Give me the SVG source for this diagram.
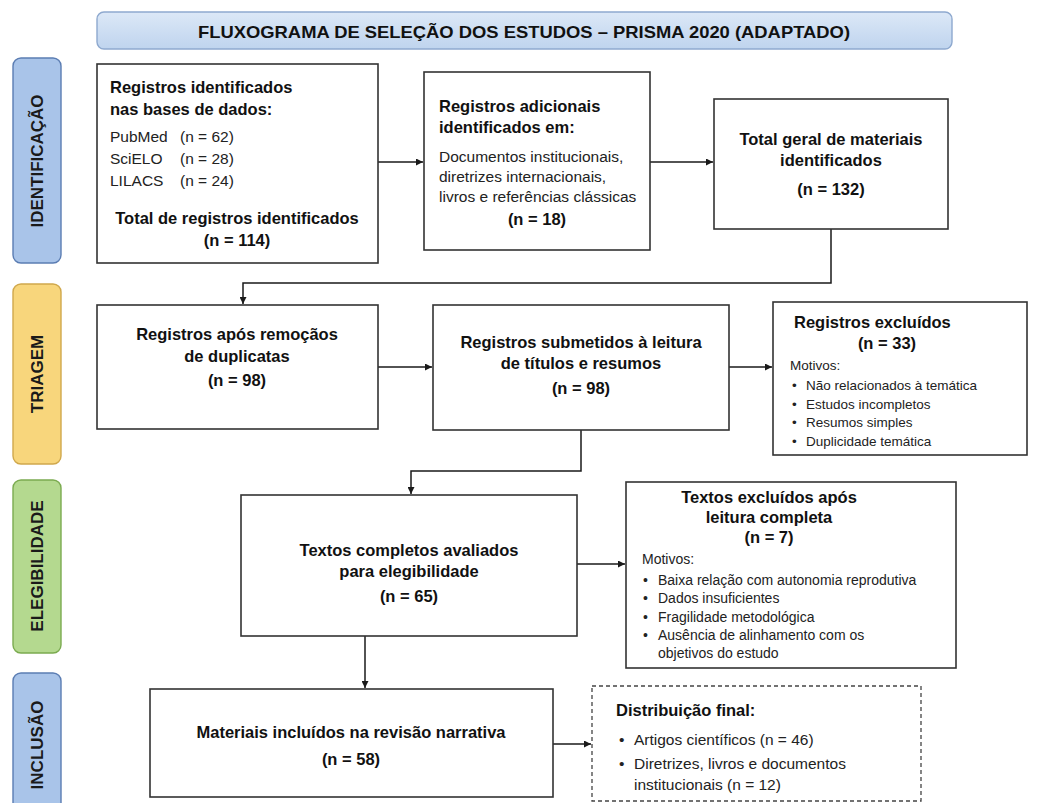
<svg xmlns="http://www.w3.org/2000/svg" width="1037" height="803" viewBox="0 0 1037 803">
<defs>
<linearGradient id="gTitle" x1="0" y1="0" x2="0" y2="1">
<stop offset="0" stop-color="#dce8f7"/>
<stop offset="1" stop-color="#bfd4ee"/>
</linearGradient>
<marker id="arr" viewBox="0 0 10 10" refX="10" refY="5" markerWidth="7" markerHeight="7" markerUnits="userSpaceOnUse" orient="auto">
<path d="M0,0 L10,5 L0,10 z" fill="#1a1a1a"/>
</marker>
<style>
.box{fill:#fff;stroke:#333;stroke-width:1.6}
.dash{fill:#fff;stroke:#444;stroke-width:1.3;stroke-dasharray:4 3}
.bar{stroke-width:1.4}
.lbl{font-family:"Liberation Sans",Arial,sans-serif;font-weight:bold;font-size:17px;fill:#1a1a1a;text-anchor:middle}
.b{font-family:"Liberation Sans",Arial,sans-serif;font-weight:bold;font-size:16.5px;fill:#111}
.r{font-family:"Liberation Sans",Arial,sans-serif;font-size:15.5px;fill:#222}
.s{font-family:"Liberation Sans",Arial,sans-serif;font-size:13.5px;fill:#222}
.m{font-family:"Liberation Sans",Arial,sans-serif;font-size:14px;fill:#222}
.c{text-anchor:middle}
.con{fill:none;stroke:#1a1a1a;stroke-width:1.5}
</style>
</defs>
<rect width="1037" height="803" fill="#fff"/>

<g id="title">
<rect x="97" y="12" width="855" height="37" rx="7" fill="url(#gTitle)" stroke="#8ea9cf" stroke-width="1.4"/>
<text x="524" y="37.5" class="b c" font-size="20" textLength="652" lengthAdjust="spacingAndGlyphs">FLUXOGRAMA DE SELEÇÃO DOS ESTUDOS – PRISMA 2020 (ADAPTADO)</text>
</g>

<g id="stage-identificacao">
<rect class="bar" x="13" y="58" width="48" height="205" rx="8" fill="#a9c4e9" stroke="#5b7db3"/>
<text class="lbl" transform="translate(43,161) rotate(-90)">IDENTIFICAÇÃO</text>
</g>
<g id="stage-triagem">
<rect class="bar" x="13" y="284" width="48" height="180" rx="8" fill="#f8d67c" stroke="#d0a84c"/>
<text class="lbl" transform="translate(43,374) rotate(-90)">TRIAGEM</text>
</g>
<g id="stage-elegibilidade">
<rect class="bar" x="13" y="480" width="48" height="173" rx="8" fill="#b4d98f" stroke="#7bab50"/>
<text class="lbl" transform="translate(43,566) rotate(-90)">ELEGIBILIDADE</text>
</g>
<g id="stage-inclusao">
<rect class="bar" x="13" y="673" width="48" height="145" rx="8" fill="#a9c4e9" stroke="#5b7db3"/>
<text class="lbl" transform="translate(43,745) rotate(-90)">INCLUSÃO</text>
</g>

<g id="connectors">
<path class="con" d="M378,162 H423" marker-end="url(#arr)"/>
<path class="con" d="M650,162 H713" marker-end="url(#arr)"/>
<path class="con" d="M831,229 V283 H243 V304" marker-end="url(#arr)"/>
<path class="con" d="M378,367 H432" marker-end="url(#arr)"/>
<path class="con" d="M729,367 H772" marker-end="url(#arr)"/>
<path class="con" d="M581,430 V471 H411 V494" marker-end="url(#arr)"/>
<path class="con" d="M577,564 H625" marker-end="url(#arr)"/>
<path class="con" d="M365,636 V688" marker-end="url(#arr)"/>
<path class="con" d="M553,744 H591" marker-end="url(#arr)"/>
</g>

<g id="n-registros">
<rect class="box" x="97" y="64" width="281" height="199"/>
<text class="b" x="110" y="93">Registros identificados</text>
<text class="b" x="110" y="115">nas bases de dados:</text>
<text class="r" x="110" y="142">PubMed <tspan x="180">(n = 62)</tspan></text>
<text class="r" x="110" y="164">SciELO <tspan x="180">(n = 28)</tspan></text>
<text class="r" x="110" y="186">LILACS <tspan x="180">(n = 24)</tspan></text>
<text class="b c" x="237" y="224">Total de registros identificados</text>
<text class="b c" x="237" y="246">(n = 114)</text>
</g>

<g id="n-adicionais">
<rect class="box" x="424" y="72" width="226" height="178"/>
<text class="b" x="439" y="112">Registros adicionais</text>
<text class="b" x="439" y="133">identificados em:</text>
<text class="r" x="439" y="162">Documentos institucionais,</text>
<text class="r" x="439" y="182">diretrizes internacionais,</text>
<text class="r" x="439" y="202">livros e referências clássicas</text>
<text class="b c" x="537" y="225">(n = 18)</text>
</g>

<g id="n-total">
<rect class="box" x="714" y="99" width="234" height="130"/>
<text class="b c" x="831" y="145">Total geral de materiais</text>
<text class="b c" x="831" y="166">identificados</text>
<text class="b c" x="831" y="195">(n = 132)</text>
</g>

<g id="n-duplicatas">
<rect class="box" x="97" y="305" width="281" height="124"/>
<text class="b c" x="237" y="340">Registros após remoçãos</text>
<text class="b c" x="237" y="362">de duplicatas</text>
<text class="b c" x="237" y="386">(n = 98)</text>
</g>

<g id="n-submetidos">
<rect class="box" x="433" y="305" width="296" height="125"/>
<text class="b c" x="581" y="348">Registros submetidos à leitura</text>
<text class="b c" x="581" y="369">de títulos e resumos</text>
<text class="b c" x="581" y="394">(n = 98)</text>
</g>

<g id="n-excluidos1">
<rect class="box" x="773" y="302" width="254" height="153"/>
<text class="b" x="794" y="328">Registros excluídos</text>
<text class="b c" x="887" y="349">(n = 33)</text>
<text class="s" x="790" y="370">Motivos:</text>
<text class="s" x="792" y="390">•<tspan x="806">Não relacionados à temática</tspan></text>
<text class="s" x="792" y="409">•<tspan x="806">Estudos incompletos</tspan></text>
<text class="s" x="792" y="427">•<tspan x="806">Resumos simples</tspan></text>
<text class="s" x="792" y="446">•<tspan x="806">Duplicidade temática</tspan></text>
</g>

<g id="n-textos">
<rect class="box" x="241" y="495" width="336" height="141"/>
<text class="b c" x="409" y="556">Textos completos avaliados</text>
<text class="b c" x="409" y="577">para elegibilidade</text>
<text class="b c" x="409" y="602">(n = 65)</text>
</g>

<g id="n-excluidos2">
<rect class="box" x="626" y="482" width="330" height="186"/>
<text class="b c" x="769" y="503">Textos excluídos após</text>
<text class="b c" x="769" y="523">leitura completa</text>
<text class="b c" x="769" y="543">(n = 7)</text>
<text class="m" x="642" y="564">Motivos:</text>
<text class="m" x="643" y="585">•<tspan x="658">Baixa relação com autonomia reprodutiva</tspan></text>
<text class="m" x="643" y="603">•<tspan x="658">Dados insuficientes</tspan></text>
<text class="m" x="643" y="622">•<tspan x="658">Fragilidade metodológica</tspan></text>
<text class="m" x="643" y="640">•<tspan x="658">Ausência de alinhamento com os</tspan></text>
<text class="m" x="658" y="658">objetivos do estudo</text>
</g>

<g id="n-incluidos">
<rect class="box" x="150" y="689" width="403" height="108"/>
<text class="b c" x="351" y="738">Materiais incluídos na revisão narrativa</text>
<text class="b c" x="351" y="765">(n = 58)</text>
</g>

<g id="n-distribuicao">
<rect class="dash" x="592" y="686" width="329" height="115"/>
<text class="b" x="616" y="716">Distribuição final:</text>
<text class="r" x="619" y="745">•<tspan x="634">Artigos científicos (n = 46)</tspan></text>
<text class="r" x="619" y="769">•<tspan x="634">Diretrizes, livros e documentos</tspan></text>
<text class="r" x="634" y="790">institucionais (n = 12)</text>
</g>
</svg>
